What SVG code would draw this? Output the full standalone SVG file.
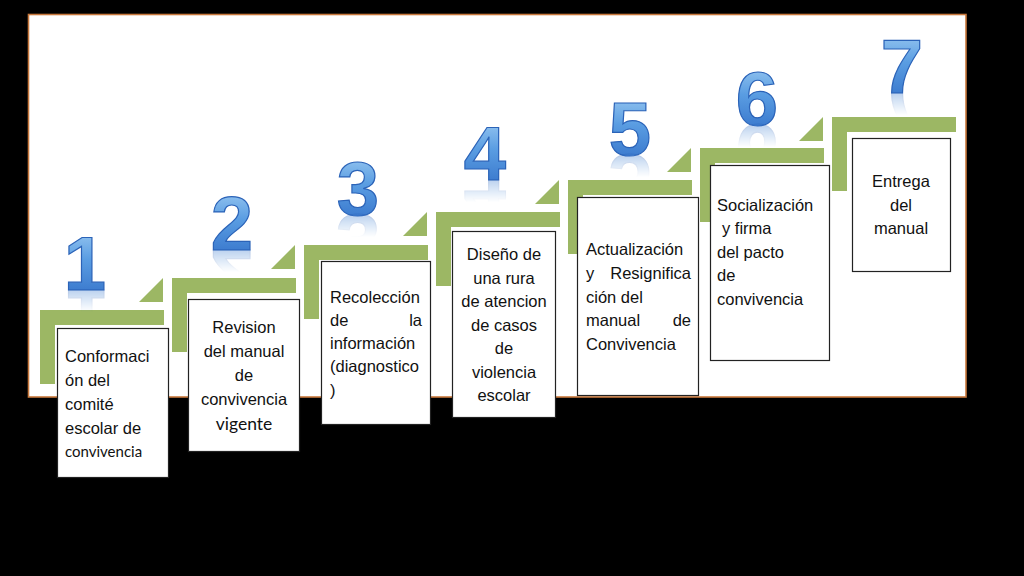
<svg xmlns="http://www.w3.org/2000/svg" xmlns:xlink="http://www.w3.org/1999/xlink" width="1024" height="576" viewBox="0 0 1024 576">
<defs>
<linearGradient id="blue" x1="0" y1="0" x2="0" y2="1">
<stop offset="0" stop-color="#a9d3f5"/>
<stop offset="0.45" stop-color="#5a9de2"/>
<stop offset="1" stop-color="#2f6cc6"/>
</linearGradient>
<linearGradient id="fade" x1="0" y1="0" x2="0" y2="1">
<stop offset="0" stop-color="#fff" stop-opacity="0"/>
<stop offset="0.55" stop-color="#fff" stop-opacity="0"/>
<stop offset="1" stop-color="#fff" stop-opacity="0.6"/>
</linearGradient>
<mask id="refl" maskContentUnits="objectBoundingBox">
<rect x="0" y="0" width="1" height="1" fill="url(#fade)"/>
</mask>
<g id="step">
<rect x="0" y="0" width="124" height="15"/>
<rect x="0" y="0" width="15" height="74"/>
</g>
<polygon id="tri" points="-34,24 -10,0 -10,24"/>
</defs>
<style>
.panel{fill:#fff;stroke:#c8783c;stroke-width:1.6}
.green{fill:#9cb764}
.num{font-family:"Liberation Sans",Arial,sans-serif;font-weight:bold;font-size:76px;fill:url(#blue);stroke:#2b63b8;stroke-width:1.2;text-anchor:middle}
.box{fill:#fff;stroke:#222;stroke-width:1.2}
.t{font-family:"Liberation Sans",Arial,sans-serif;font-size:16.5px;fill:#111}
.c{text-anchor:middle}
.e{text-anchor:end}
.cal{font-family:Lato,"Open Sans",sans-serif;font-size:15px;fill:#111}
.cal2{font-family:Lato,"Open Sans",sans-serif;font-size:17.5px;fill:#111}
</style>
<rect x="0" y="0" width="1024" height="576" fill="#000"/>
<rect class="panel" x="28.5" y="14.5" width="937.5" height="382.5"/>

<g id="stairs" class="green">
<use xlink:href="#step" x="40" y="310"/>
<use xlink:href="#tri" x="173" y="278"/>
<use xlink:href="#step" x="172" y="278"/>
<use xlink:href="#tri" x="305" y="245"/>
<use xlink:href="#step" x="304" y="245"/>
<use xlink:href="#tri" x="437" y="212"/>
<use xlink:href="#step" x="436" y="212"/>
<use xlink:href="#tri" x="569" y="180"/>
<use xlink:href="#step" x="568" y="180"/>
<use xlink:href="#tri" x="701" y="148"/>
<use xlink:href="#step" x="700" y="148"/>
<use xlink:href="#tri" x="833" y="117"/>
<use xlink:href="#step" x="832" y="117"/>
</g>

<g id="numbers">
<text id="n1" class="num" x="85" y="290">1</text>
<use xlink:href="#n1" transform="translate(0,580) scale(1,-1)" mask="url(#refl)"/>
<text id="n2" class="num" x="232" y="250">2</text>
<use xlink:href="#n2" transform="translate(0,500) scale(1,-1)" mask="url(#refl)"/>
<text id="n3" class="num" x="358" y="215">3</text>
<use xlink:href="#n3" transform="translate(0,430) scale(1,-1)" mask="url(#refl)"/>
<text id="n4" class="num" x="485" y="180">4</text>
<use xlink:href="#n4" transform="translate(0,360) scale(1,-1)" mask="url(#refl)"/>
<text id="n5" class="num" x="630" y="155">5</text>
<use xlink:href="#n5" transform="translate(0,310) scale(1,-1)" mask="url(#refl)"/>
<text id="n6" class="num" x="757" y="125">6</text>
<use xlink:href="#n6" transform="translate(0,250) scale(1,-1)" mask="url(#refl)"/>
<text id="n7" class="num" x="902" y="93">7</text>
<use xlink:href="#n7" transform="translate(0,186) scale(1,-1)" mask="url(#refl)"/>
</g>

<g id="connectors"></g>

<g id="node1">
<rect class="box" x="57.5" y="328.5" width="111" height="149"/>
<text class="t" x="65" y="362">Conformaci</text>
<text class="t" x="65" y="386">ón del</text>
<text class="t" x="65" y="410">comité</text>
<text class="t" x="65" y="434">escolar de</text>
<text class="cal" x="65" y="457">convivencia</text>
</g>

<g id="node2">
<rect class="box" x="188.5" y="299.5" width="111" height="152"/>
<text class="t c" x="244" y="333">Revision</text>
<text class="t c" x="244" y="357">del manual</text>
<text class="t c" x="244" y="381">de</text>
<text class="t c" x="244" y="405">convivencia</text>
<text class="cal2 c" x="244" y="430">vigente</text>
</g>

<g id="node3">
<rect class="box" x="321.5" y="261.5" width="109" height="163"/>
<text class="t" x="330" y="303">Recolección</text>
<text class="t" x="330" y="326">de</text>
<text class="t e" x="422" y="326">la</text>
<text class="t" x="330" y="349">información</text>
<text class="t" x="330" y="372">(diagnostico</text>
<text class="t" x="330" y="396">)</text>
</g>

<g id="node4">
<rect class="box" x="452.5" y="231.5" width="103" height="186"/>
<text class="t c" x="504" y="260">Diseño de</text>
<text class="t c" x="504" y="284">una rura</text>
<text class="t c" x="504" y="307">de atencion</text>
<text class="t c" x="504" y="331">de casos</text>
<text class="t c" x="504" y="354">de</text>
<text class="t c" x="504" y="378">violencia</text>
<text class="t c" x="504" y="401">escolar</text>
</g>

<g id="node5">
<rect class="box" x="577.5" y="197.5" width="121" height="198"/>
<text class="t" x="586" y="255">Actualización</text>
<text class="t" x="586" y="279">y</text>
<text class="t e" x="691" y="279">Resignifica</text>
<text class="t" x="586" y="303">ción del</text>
<text class="t" x="586" y="326">manual</text>
<text class="t e" x="691" y="326">de</text>
<text class="t" x="586" y="350">Convivencia</text>
</g>

<g id="node6">
<rect class="box" x="710.5" y="165.5" width="119" height="195"/>
<text class="t" x="717" y="211">Socialización</text>
<text class="t" x="722" y="234">y firma</text>
<text class="t" x="717" y="258">del pacto</text>
<text class="t" x="717" y="281">de</text>
<text class="t" x="717" y="305">convivencia</text>
</g>

<g id="node7">
<rect class="box" x="852.5" y="138.5" width="98" height="133"/>
<text class="t c" x="901" y="187">Entrega</text>
<text class="t c" x="901" y="211">del</text>
<text class="t c" x="901" y="234">manual</text>
</g>
</svg>
